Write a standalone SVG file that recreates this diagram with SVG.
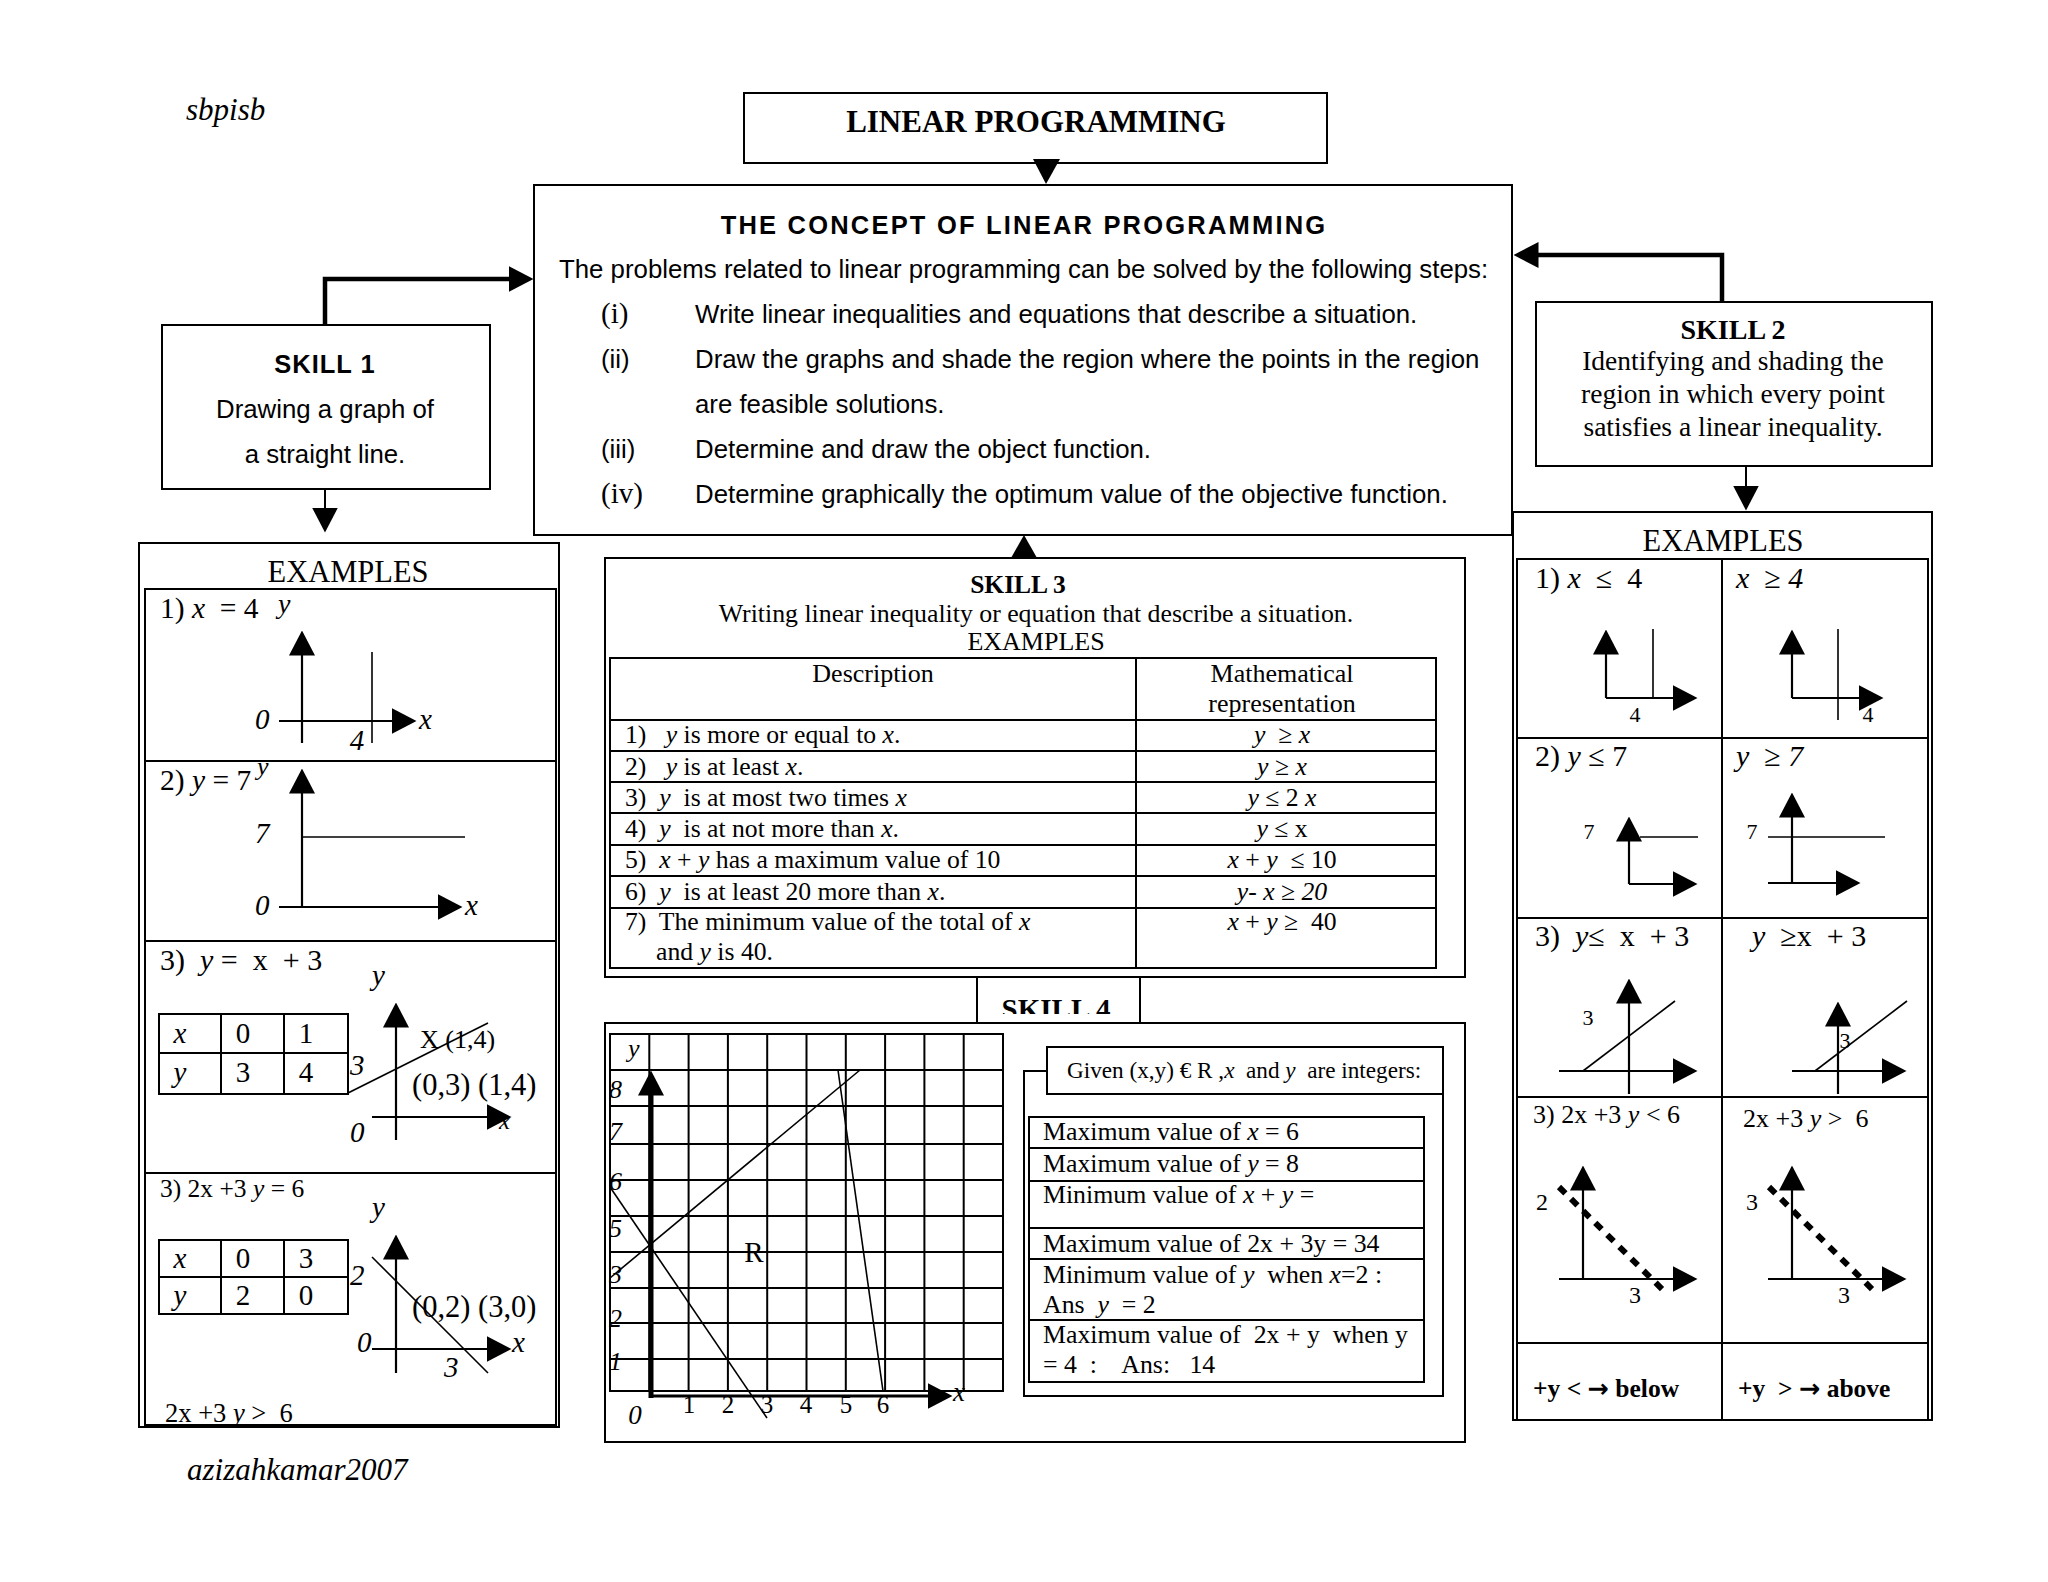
<svg xmlns="http://www.w3.org/2000/svg" width="2048" height="1582" viewBox="0 0 2048 1582">
<style>
.bx{fill:none;stroke:#000;stroke-width:2}
.ln{fill:none;stroke:#000;stroke-width:2}
.th{fill:none;stroke:#000;stroke-width:1.6}
.ax{fill:none;stroke:#000;stroke-width:2.2}
.cn{fill:none;stroke:#000;stroke-width:4.5}
.dsh{fill:none;stroke:#000;stroke-width:6;stroke-dasharray:9 8}
.t{font-family:"Liberation Serif","Times New Roman",serif;fill:#000}
.s{font-family:"Liberation Sans",Arial,sans-serif;fill:#000}
.i{font-style:italic}
.b{font-weight:bold}
.m{text-anchor:middle}
.ar{font-family:"DejaVu Sans",sans-serif;font-weight:bold}
</style>
<defs>
<marker id="a" viewBox="0 0 25 26" refX="0.5" refY="13" markerWidth="25" markerHeight="26" markerUnits="userSpaceOnUse" orient="auto">
<path d="M0,0 L25,13 L0,26 z" fill="#000"/>
</marker>
<clipPath id="clipS4"><rect x="977" y="977" width="163" height="37"/></clipPath>
</defs>
<rect width="2048" height="1582" fill="#fff"/>

<text class="t i" x="186" y="120" font-size="31">sbpisb</text>
<text class="t i" x="187" y="1480" font-size="31">azizahkamar2007</text>

<g id="title">
<rect class="bx" x="744" y="93" width="583" height="70"/>
<text class="t b m" x="1036" y="132" font-size="31">LINEAR PROGRAMMING</text>
</g>

<g id="concept">
<rect class="bx" x="534" y="185" width="978" height="350"/>
<text class="s b m" x="1024" y="234" font-size="25.5" letter-spacing="2.2">THE CONCEPT OF LINEAR PROGRAMMING</text>
<text class="s" x="559" y="278" font-size="25.8">The problems related to linear programming can be solved by the following steps:</text>
<text class="t" x="601" y="323" font-size="29">(i)</text>
<text class="s" x="695" y="323" font-size="25.8">Write linear inequalities and equations that describe a situation.</text>
<text class="s" x="601" y="368" font-size="25.8">(ii)</text>
<text class="s" x="695" y="368" font-size="25.8">Draw the graphs and shade the region where the points in the region</text>
<text class="s" x="695" y="413" font-size="25.8">are feasible solutions.</text>
<text class="s" x="601" y="458" font-size="25.8">(iii)</text>
<text class="s" x="695" y="458" font-size="25.8">Determine and draw the object function.</text>
<text class="t" x="601" y="503" font-size="29">(iv)</text>
<text class="s" x="695" y="503" font-size="25.8">Determine graphically the optimum value of the objective function.</text>
</g>

<g id="skill1">
<rect class="bx" x="162" y="325" width="328" height="164"/>
<text class="s b m" x="325" y="373" font-size="25.5" letter-spacing="1">SKILL 1</text>
<text class="s m" x="325" y="418" font-size="25.8">Drawing a graph of</text>
<text class="s m" x="325" y="463" font-size="25.8">a straight line.</text>
</g>

<g id="skill2">
<rect class="bx" x="1536" y="302" width="396" height="164"/>
<text class="t b m" x="1733" y="339" font-size="28">SKILL 2</text>
<text class="t m" x="1733" y="370" font-size="27.5">Identifying and shading the</text>
<text class="t m" x="1733" y="403" font-size="27.5">region in which every point</text>
<text class="t m" x="1733" y="436" font-size="27.5">satisfies a linear inequality.</text>
</g>

<g id="examples1">
<rect class="bx" x="139" y="543" width="420" height="884"/>
<rect class="bx" x="145" y="589" width="411" height="836"/>
<line class="ln" x1="145" y1="761" x2="556" y2="761"/>
<line class="ln" x1="145" y1="941" x2="556" y2="941"/>
<line class="ln" x1="145" y1="1173" x2="556" y2="1173"/>
<text class="t m" x="348" y="582" font-size="30.5">EXAMPLES</text>
<!-- row 1 -->
<text class="t" x="160" y="618" font-size="29.5" xml:space="preserve">1) <tspan class="i">x</tspan>  = 4</text>
<text class="t i" x="278" y="613" font-size="28">y</text>
<path class="ax" d="M302,743 V655" marker-end="url(#a)"/>
<path class="ax" d="M279,721 H392" marker-end="url(#a)"/>
<line class="th" x1="372" y1="652" x2="372" y2="743"/>
<text class="t i" x="255" y="729" font-size="29">0</text>
<text class="t i m" x="357" y="750" font-size="29">4</text>
<text class="t i" x="419" y="729" font-size="29">x</text>
<!-- row 2 -->
<text class="t" x="160" y="790" font-size="29.5" xml:space="preserve">2) <tspan class="i">y</tspan> = 7</text>
<text class="t i" x="257" y="775" font-size="26">y</text>
<path class="ax" d="M302,907 V793" marker-end="url(#a)"/>
<line class="th" x1="302" y1="837" x2="465" y2="837"/>
<path class="ax" d="M279,907 H438" marker-end="url(#a)"/>
<text class="t i" x="255" y="843" font-size="29">7</text>
<text class="t i" x="255" y="915" font-size="29">0</text>
<text class="t i" x="465" y="915" font-size="29">x</text>
<!-- row 3 -->
<text class="t" x="160" y="970" font-size="30" xml:space="preserve">3)  <tspan class="i">y</tspan> =  x  + 3</text>
<text class="t i" x="372" y="985" font-size="29">y</text>
<rect class="ln" x="159" y="1014" width="189" height="80"/>
<line class="ln" x1="221" y1="1014" x2="221" y2="1094"/>
<line class="ln" x1="284" y1="1014" x2="284" y2="1094"/>
<line class="ln" x1="159" y1="1053" x2="348" y2="1053"/>
<text class="t i m" x="180" y="1043" font-size="29">x</text>
<text class="t m" x="243" y="1043" font-size="29">0</text>
<text class="t m" x="306" y="1043" font-size="29">1</text>
<text class="t i m" x="180" y="1082" font-size="29">y</text>
<text class="t m" x="243" y="1082" font-size="29">3</text>
<text class="t m" x="306" y="1082" font-size="29">4</text>
<text class="t i" x="350" y="1075" font-size="29">3</text>
<path class="ax" d="M396,1140 V1027" marker-end="url(#a)"/>
<path class="ax" d="M372,1117 H487" marker-end="url(#a)"/>
<line class="th" x1="348" y1="1093" x2="488" y2="1023"/>
<text class="t" x="420" y="1048" font-size="26">X (1,4)</text>
<text class="t" x="412" y="1095" font-size="30.5">(0,3) (1,4)</text>
<text class="t i" x="499" y="1129" font-size="25">x</text>
<text class="t i" x="350" y="1142" font-size="29">0</text>
<!-- row 4 -->
<text class="t" x="160" y="1197" font-size="25.5" xml:space="preserve">3) 2x +3 <tspan class="i">y</tspan> = 6</text>
<text class="t i" x="372" y="1217" font-size="29">y</text>
<rect class="ln" x="159" y="1240" width="189" height="74"/>
<line class="ln" x1="221" y1="1240" x2="221" y2="1314"/>
<line class="ln" x1="284" y1="1240" x2="284" y2="1314"/>
<line class="ln" x1="159" y1="1277" x2="348" y2="1277"/>
<text class="t i m" x="180" y="1268" font-size="29">x</text>
<text class="t m" x="243" y="1268" font-size="29">0</text>
<text class="t m" x="306" y="1268" font-size="29">3</text>
<text class="t i m" x="180" y="1305" font-size="29">y</text>
<text class="t m" x="243" y="1305" font-size="29">2</text>
<text class="t m" x="306" y="1305" font-size="29">0</text>
<text class="t i" x="350" y="1285" font-size="29">2</text>
<path class="ax" d="M396,1373 V1259" marker-end="url(#a)"/>
<path class="ax" d="M372,1349 H487" marker-end="url(#a)"/>
<line class="th" x1="372" y1="1257" x2="488" y2="1373"/>
<text class="t" x="412" y="1317" font-size="30.5">(0,2) (3,0)</text>
<text class="t i" x="357" y="1352" font-size="29">0</text>
<text class="t i" x="512" y="1352" font-size="29">x</text>
<text class="t i" x="444" y="1377" font-size="29">3</text>
<text class="t" x="165" y="1422" font-size="26.5" xml:space="preserve">2x +3 <tspan class="i">y</tspan> &gt;  6</text>
</g>

<g id="skill3">
<rect class="bx" x="605" y="558" width="860" height="419"/>
<text class="t b m" x="1018" y="593" font-size="25.5">SKILL 3</text>
<text class="t m" x="1036" y="622" font-size="25.8">Writing linear inequality or equation that describe a situation.</text>
<text class="t m" x="1036" y="650" font-size="26">EXAMPLES</text>
<rect class="ln" x="610" y="658" width="826" height="310"/>
<line class="ln" x1="1136" y1="658" x2="1136" y2="968"/>
<line class="ln" x1="610" y1="720" x2="1436" y2="720"/>
<line class="ln" x1="610" y1="751" x2="1436" y2="751"/>
<line class="ln" x1="610" y1="782" x2="1436" y2="782"/>
<line class="ln" x1="610" y1="813" x2="1436" y2="813"/>
<line class="ln" x1="610" y1="845" x2="1436" y2="845"/>
<line class="ln" x1="610" y1="876" x2="1436" y2="876"/>
<line class="ln" x1="610" y1="908" x2="1436" y2="908"/>
<text class="t m" x="873" y="682" font-size="26">Description</text>
<text class="t m" x="1282" y="682" font-size="26">Mathematical</text>
<text class="t m" x="1282" y="712" font-size="26">representation</text>
<g font-size="25.7">
<text class="t" x="625" y="743" xml:space="preserve">1)   <tspan class="i">y</tspan> is more or equal to <tspan class="i">x</tspan>.</text>
<text class="t" x="625" y="775" xml:space="preserve">2)   <tspan class="i">y</tspan> is at least <tspan class="i">x</tspan>.</text>
<text class="t" x="625" y="806" xml:space="preserve">3)  <tspan class="i">y</tspan>  is at most two times <tspan class="i">x</tspan></text>
<text class="t" x="625" y="837" xml:space="preserve">4)  <tspan class="i">y</tspan>  is at not more than <tspan class="i">x</tspan>.</text>
<text class="t" x="625" y="868" xml:space="preserve">5)  <tspan class="i">x</tspan> + <tspan class="i">y</tspan> has a maximum value of 10</text>
<text class="t" x="625" y="900" xml:space="preserve">6)  <tspan class="i">y</tspan>  is at least 20 more than <tspan class="i">x</tspan>.</text>
<text class="t" x="625" y="930" xml:space="preserve">7)  The minimum value of the total of <tspan class="i">x</tspan></text>
<text class="t" x="656" y="960" xml:space="preserve">and <tspan class="i">y</tspan> is 40.</text>
<text class="t m" x="1282" y="743" xml:space="preserve"><tspan class="i">y</tspan>  ≥ <tspan class="i">x</tspan></text>
<text class="t m" x="1282" y="775" xml:space="preserve"><tspan class="i">y</tspan> ≥ <tspan class="i">x</tspan></text>
<text class="t m" x="1282" y="806" xml:space="preserve"><tspan class="i">y</tspan> ≤ 2 <tspan class="i">x</tspan></text>
<text class="t m" x="1282" y="837" xml:space="preserve"><tspan class="i">y</tspan> ≤ x</text>
<text class="t m" x="1282" y="868" xml:space="preserve"><tspan class="i">x</tspan> + <tspan class="i">y</tspan>  ≤ 10</text>
<text class="t m" x="1282" y="900" xml:space="preserve"><tspan class="i">y- x ≥ 20</tspan></text>
<text class="t m" x="1282" y="930" xml:space="preserve"><tspan class="i">x</tspan> + <tspan class="i">y</tspan> ≥  40</text>
</g>
</g>

<g id="skill4">
<rect class="bx" x="977" y="977" width="163" height="46"/>
<text class="t b m" x="1056" y="1019" font-size="29" clip-path="url(#clipS4)">SKILL 4</text>
<rect class="bx" x="605" y="1023" width="860" height="419"/>
<g class="ln">
<rect x="610" y="1034" width="393" height="357"/>
<path d="M649.3,1034V1391M688.6,1034V1391M727.9,1034V1391M767.2,1034V1391M806.5,1034V1391M845.8,1034V1391M885.1,1034V1391M924.4,1034V1391M963.7,1034V1391"/>
<path d="M610,1070H1003M610,1106H1003M610,1144H1003M610,1180H1003M610,1216H1003M610,1252H1003M610,1288H1003M610,1323H1003M610,1359H1003"/>
</g>
<path fill="none" stroke="#000" stroke-width="5" d="M651,1398 V1095" marker-end="url(#a)"/>
<path fill="none" stroke="#000" stroke-width="3" d="M651,1396 H928" marker-end="url(#a)"/>
<line class="th" x1="610" y1="1278" x2="860" y2="1070"/>
<line class="th" x1="610" y1="1187" x2="767" y2="1418"/>
<line class="th" x1="838" y1="1070" x2="883" y2="1391"/>
<g class="t i" font-size="26">
<text x="628" y="1057">y</text>
<text x="609" y="1098">8</text>
<text x="609" y="1140">7</text>
<text x="609" y="1190">6</text>
<text x="609" y="1237">5</text>
<text x="609" y="1283">3</text>
<text x="609" y="1327">2</text>
<text x="609" y="1370">1</text>
</g>
<g class="t m" font-size="25">
<text x="689" y="1413">1</text>
<text x="728" y="1413">2</text>
<text x="767" y="1413">3</text>
<text x="806" y="1413">4</text>
<text x="846" y="1413">5</text>
<text x="883" y="1413">6</text>
</g>
<text class="t i m" x="635" y="1424" font-size="27">0</text>
<text class="t i" x="953" y="1401" font-size="27">x</text>
<text class="t m" x="754" y="1262" font-size="29">R</text>
<path class="ln" d="M1047,1071 H1024 V1396 H1443 V1094"/>
<rect class="ln" x="1047" y="1047" width="396" height="47"/>
<text class="t" x="1067" y="1078" font-size="23.2" xml:space="preserve">Given (x,y) € R ,<tspan class="i">x</tspan>  and <tspan class="i">y</tspan>  are integers:</text>
<rect class="ln" x="1029" y="1117" width="395" height="265"/>
<line class="ln" x1="1029" y1="1148" x2="1424" y2="1148"/>
<line class="ln" x1="1029" y1="1181" x2="1424" y2="1181"/>
<line class="ln" x1="1029" y1="1228" x2="1424" y2="1228"/>
<line class="ln" x1="1029" y1="1259" x2="1424" y2="1259"/>
<line class="ln" x1="1029" y1="1320" x2="1424" y2="1320"/>
<g font-size="25.8">
<text class="t" x="1043" y="1140" xml:space="preserve">Maximum value of <tspan class="i">x</tspan> = 6</text>
<text class="t" x="1043" y="1172" xml:space="preserve">Maximum value of <tspan class="i">y</tspan> = 8</text>
<text class="t" x="1043" y="1203" xml:space="preserve">Minimum value of <tspan class="i">x</tspan> + <tspan class="i">y</tspan> =</text>
<text class="t" x="1043" y="1252" xml:space="preserve">Maximum value of 2x + 3y = 34</text>
<text class="t" x="1043" y="1283" xml:space="preserve">Minimum value of <tspan class="i">y</tspan>  when <tspan class="i">x</tspan>=2 :</text>
<text class="t" x="1043" y="1313" xml:space="preserve">Ans  <tspan class="i">y</tspan>  = 2</text>
<text class="t" x="1043" y="1343" xml:space="preserve">Maximum value of  2x + y  when y</text>
<text class="t" x="1043" y="1373" xml:space="preserve">= 4  :    Ans:   14</text>
</g>
</g>

<g id="examples2">
<rect class="bx" x="1513" y="512" width="419" height="908"/>
<rect class="bx" x="1517" y="559" width="411" height="861"/>
<line class="ln" x1="1722" y1="559" x2="1722" y2="1420"/>
<line class="ln" x1="1517" y1="738" x2="1928" y2="738"/>
<line class="ln" x1="1517" y1="918" x2="1928" y2="918"/>
<line class="ln" x1="1517" y1="1097" x2="1928" y2="1097"/>
<line class="ln" x1="1517" y1="1343" x2="1928" y2="1343"/>
<text class="t m" x="1723" y="551" font-size="30.5">EXAMPLES</text>
<!-- row 1 -->
<text class="t" x="1535" y="588" font-size="30" xml:space="preserve">1) <tspan class="i">x</tspan>  ≤  4</text>
<path class="ax" d="M1606,698 V654" marker-end="url(#a)"/>
<path class="ax" d="M1606,698 H1673" marker-end="url(#a)"/>
<line class="th" x1="1653" y1="629" x2="1653" y2="698"/>
<text class="t m" x="1635" y="722" font-size="22">4</text>
<text class="t i" x="1736" y="588" font-size="30" xml:space="preserve">x  ≥ 4</text>
<path class="ax" d="M1792,698 V654" marker-end="url(#a)"/>
<path class="ax" d="M1792,698 H1859" marker-end="url(#a)"/>
<line class="th" x1="1838" y1="629" x2="1838" y2="720"/>
<text class="t m" x="1868" y="722" font-size="22">4</text>
<!-- row 2 -->
<text class="t" x="1535" y="766" font-size="30" xml:space="preserve">2) <tspan class="i">y</tspan> ≤ 7</text>
<path class="ax" d="M1629,884 V841" marker-end="url(#a)"/>
<path class="ax" d="M1629,884 H1673" marker-end="url(#a)"/>
<line class="th" x1="1640" y1="837" x2="1698" y2="837"/>
<text class="t m" x="1589" y="839" font-size="22">7</text>
<text class="t" x="1736" y="766" font-size="30" xml:space="preserve"><tspan class="i">y</tspan>  ≥ <tspan class="i">7</tspan></text>
<path class="ax" d="M1792,883 V817" marker-end="url(#a)"/>
<path class="ax" d="M1768,883 H1836" marker-end="url(#a)"/>
<line class="th" x1="1768" y1="837" x2="1885" y2="837"/>
<text class="t m" x="1752" y="839" font-size="22">7</text>
<!-- row 3 -->
<text class="t" x="1535" y="946" font-size="30" xml:space="preserve">3)  <tspan class="i">y</tspan>≤  x  + 3</text>
<path class="ax" d="M1629,1094 V1003" marker-end="url(#a)"/>
<path class="ax" d="M1559,1071 H1673" marker-end="url(#a)"/>
<line class="th" x1="1583" y1="1071" x2="1675" y2="1001"/>
<text class="t m" x="1588" y="1025" font-size="22">3</text>
<text class="t" x="1752" y="946" font-size="30" xml:space="preserve"><tspan class="i">y</tspan>  ≥x  + 3</text>
<path class="ax" d="M1838,1094 V1026" marker-end="url(#a)"/>
<path class="ax" d="M1792,1071 H1882" marker-end="url(#a)"/>
<line class="th" x1="1815" y1="1071" x2="1907" y2="1001"/>
<text class="t m" x="1845" y="1048" font-size="22">3</text>
<!-- row 4 -->
<text class="t" x="1533" y="1123" font-size="26" xml:space="preserve">3) 2x +3 <tspan class="i">y</tspan> &lt; 6</text>
<path class="ax" d="M1583,1279 V1190" marker-end="url(#a)"/>
<path class="ax" d="M1559,1279 H1673" marker-end="url(#a)"/>
<line class="dsh" x1="1559" y1="1187" x2="1667" y2="1294"/>
<text class="t m" x="1542" y="1210" font-size="24">2</text>
<text class="t m" x="1635" y="1303" font-size="24">3</text>
<text class="t" x="1743" y="1127" font-size="26" xml:space="preserve">2x +3 <tspan class="i">y</tspan> &gt;  6</text>
<path class="ax" d="M1792,1279 V1190" marker-end="url(#a)"/>
<path class="ax" d="M1768,1279 H1882" marker-end="url(#a)"/>
<line class="dsh" x1="1769" y1="1187" x2="1877" y2="1294"/>
<text class="t m" x="1752" y="1210" font-size="24">3</text>
<text class="t m" x="1844" y="1303" font-size="24">3</text>
<!-- row 5 -->
<text class="t b" x="1533" y="1397" font-size="25.5" xml:space="preserve">+y &lt; <tspan class="ar">→</tspan> below</text>
<text class="t b" x="1738" y="1397" font-size="25.5" xml:space="preserve">+y  &gt; <tspan class="ar">→</tspan> above</text>
</g>

<g id="connectors">
<polygon points="1033,159 1060,159 1046,184" fill="#000"/>
<path class="cn" d="M325,325 V279 H509" marker-end="url(#a)"/>
<path class="cn" d="M1722,302 V255 H1538" marker-end="url(#a)"/>
<path class="ln" d="M325,489 V508" marker-end="url(#a)"/>
<path class="ln" d="M1746,466 V486" marker-end="url(#a)"/>
<polygon points="1011,558 1037,558 1024,535" fill="#000"/>
</g>
</svg>
